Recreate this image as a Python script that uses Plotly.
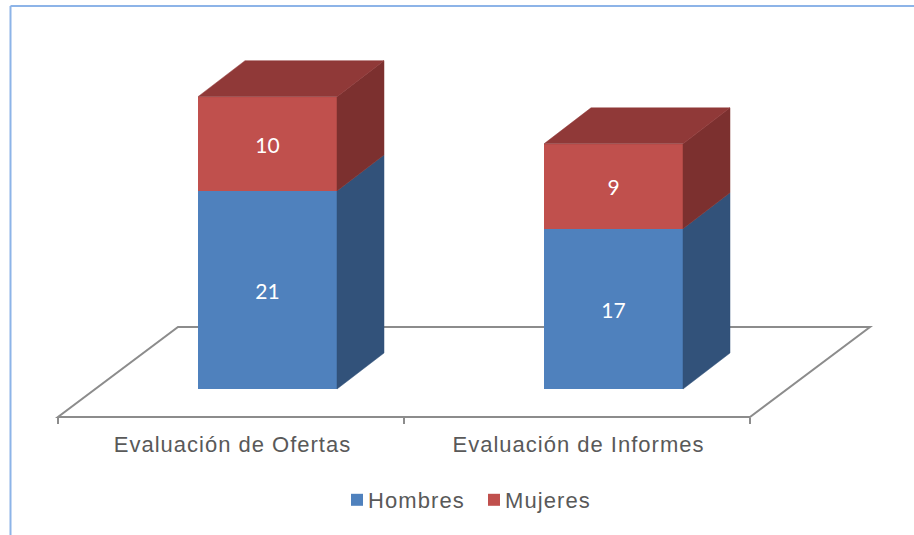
import plotly.graph_objects as go

categories = ["Evaluación de Ofertas", "Evaluación de Informes"]
hombres = [21, 17]
mujeres = [10, 9]

W, H = 914, 535
# pixels per axis unit
PX_X = 346.0
PX_Y = 9.43
x_range = [-0.5 - 58 / PX_X, -0.5 + (W - 58) / PX_X]
y_range = [-(H - 389) / PX_Y, 389 / PX_Y]

bar_w = 139 / PX_X
bar_shift = 36.5 / PX_X        # the bars sit towards the back of the floor
depth_x = 47 / PX_X
depth_y = 36 / PX_Y
floor_front = -28 / PX_Y
floor_dx = 120 / PX_X
floor_dy = 90 / PX_Y

BLUE, BLUE_SIDE = "#4F81BD", "#32527A"
RED, RED_SIDE, RED_TOP = "#C0504D", "#7C302F", "#903938"
GREY = "#8C8C8C"
TEXT = "#595959"

bar_x = [i + bar_shift for i in range(len(categories))]


def side_face(values_low, values_high):
    xs, ys = [], []
    for x, lo, hi in zip(bar_x, values_low, values_high):
        r = x + bar_w / 2
        xs += [r, r + depth_x, r + depth_x, r, r, None]
        ys += [lo, lo + depth_y, hi + depth_y, hi, lo, None]
    return xs, ys


def top_face(values):
    xs, ys = [], []
    for x, v in zip(bar_x, values):
        l, r = x - bar_w / 2, x + bar_w / 2
        xs += [l, l + depth_x, r + depth_x, r, l, None]
        ys += [v, v + depth_y, v + depth_y, v, v, None]
    return xs, ys


def face(xs, ys, color):
    return go.Scatter(x=xs, y=ys, mode="lines", fill="toself", fillcolor=color,
                      line=dict(color=color, width=0.5), hoverinfo="skip",
                      showlegend=False)


totals = [a + b for a, b in zip(hombres, mujeres)]

fig = go.Figure()
fig.add_trace(go.Bar(x=bar_x, y=hombres, width=bar_w, name="Hombres",
                     marker=dict(color=BLUE, line=dict(width=0)),
                     text=hombres, textposition="inside", insidetextanchor="middle",
                     textangle=0, textfont=dict(family="Lato", size=21, color="white")))
fig.add_trace(go.Bar(x=bar_x, y=mujeres, width=bar_w, name="Mujeres",
                     marker=dict(color=RED, line=dict(width=0)),
                     text=mujeres, textposition="inside", insidetextanchor="middle",
                     textangle=0, textfont=dict(family="Lato", size=21, color="white")))
fig.add_trace(face(*side_face([0, 0], hombres), BLUE_SIDE))
fig.add_trace(face(*side_face(hombres, totals), RED_SIDE))
fig.add_trace(face(*top_face(totals), RED_TOP))

# floor of the 3D box, under the bars
x0, x1 = -0.5, len(categories) - 0.5
floor_path = (f"M {x0} {floor_front} L {x1} {floor_front} "
              f"L {x1 + floor_dx} {floor_front + floor_dy} "
              f"L {x0 + floor_dx} {floor_front + floor_dy} Z")

fig.update_layout(
    width=W, height=H, barmode="stack", bargap=0,
    margin=dict(l=0, r=0, t=0, b=0),
    paper_bgcolor="white", plot_bgcolor="white",
    font=dict(family="Liberation Sans", color=TEXT),
    legend=dict(orientation="h", traceorder="normal", x=337 / W, xanchor="left",
                y=1 - 500 / H, yanchor="middle", entrywidth=92, entrywidthmode="pixels",
                font=dict(size=22, color=TEXT), itemclick=False, itemdoubleclick=False),
    shapes=[
        dict(type="path", path=floor_path, xref="x", yref="y", layer="below",
             line=dict(color=GREY, width=2)),
        # thin blue frame, only top and left are in the picture
        dict(type="line", xref="paper", yref="paper", x0=10.5 / W, x1=1, y0=1 - 6 / H, y1=1 - 6 / H,
             line=dict(color="#8DB4E8", width=2)),
        dict(type="line", xref="paper", yref="paper", x0=10.5 / W, x1=10.5 / W, y0=0, y1=1 - 6 / H,
             line=dict(color="#8DB4E8", width=2)),
    ],
)
fig.update_xaxes(
    range=x_range, anchor="free", position=(H - 417) / H,
    showgrid=False, zeroline=False, showline=False,
    tickmode="array", tickvals=list(range(len(categories))), ticktext=categories,
    ticks="", ticklabelstandoff=12, tickfont=dict(size=22, color=TEXT),
    minor=dict(tickmode="array", tickvals=[x0 + i for i in range(len(categories) + 1)],
               ticks="outside", ticklen=6, tickwidth=2, tickcolor=GREY, showgrid=False),
)
fig.update_yaxes(range=y_range, visible=False, domain=[0, 1])

# page margin off, and the wide letter spacing of the original text
post = """
document.body.style.margin = '0';
document.querySelectorAll('.xtick text').forEach(t => {
    t.style.letterSpacing = '1px';
    t.setAttribute('dx', 1.5);
});
document.querySelectorAll('.legendtext').forEach(t => {
    t.style.letterSpacing = '1.1px';
    t.setAttribute('x', 31);
});
"""
fig.write_html("out.html", post_script=post, config=dict(displayModeBar=False))
